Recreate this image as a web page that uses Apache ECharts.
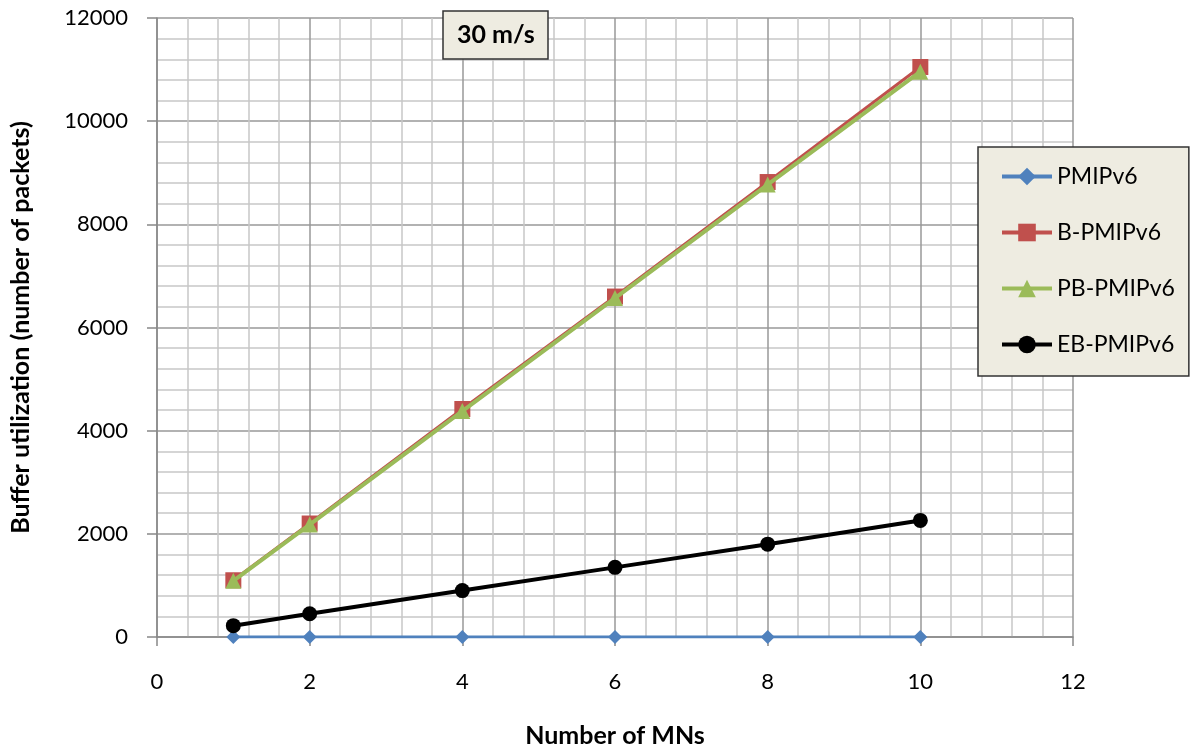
<!DOCTYPE html>
<html>
<head>
<meta charset="utf-8">
<script src="https://cdn.jsdelivr.net/npm/echarts@6/dist/echarts.min.js"></script>
<style>html,body{margin:0;padding:0;background:#fff;}#c{width:1202px;height:753px;}</style>
</head>
<body>
<div id="c"></div>
<script>
const xValues = [1, 2, 4, 6, 8, 10];
const pmipv6 = [0, 0, 0, 0, 0, 0];
const bPmipv6 = [1100, 2200, 4420, 6600, 8820, 11050];
const pbPmipv6 = [1090, 2180, 4380, 6570, 8770, 10960];
const ebPmipv6 = [220, 450, 900, 1350, 1800, 2260];
const seriesNames = ['PMIPv6', 'B-PMIPv6', 'PB-PMIPv6', 'EB-PMIPv6'];
const chartTitle = '30 m/s';
const xName = 'Number of MNs';
const yName = 'Buffer utilization (number of packets)';

const font = 'Lato, "Open Sans", sans-serif';
function pts(arr) { return xValues.map((x, i) => [x, arr[i]]); }

const chart = echarts.init(document.getElementById('c'));
chart.setOption({
  animation: false,
  textStyle: { fontFamily: font },
  title: {
    text: chartTitle,
    left: 443, top: 11,
    backgroundColor: '#eeece1',
    borderColor: '#333',
    borderWidth: 1.5,
    padding: [10, 14, 10, 14],
    textStyle: { fontSize: 25, fontWeight: 'bold', color: '#000', fontFamily: font, lineHeight: 28 }
  },
  legend: {
    orient: 'vertical',
    left: 978, top: 147,
    backgroundColor: '#eeece1',
    borderColor: '#333',
    borderWidth: 1.5,
    padding: [18, 14, 20, 22],
    itemGap: 33,
    itemWidth: 50, itemHeight: 22,
    lineStyle: { width: 4 },
    textStyle: { fontSize: 23, color: '#000', fontFamily: font },
    data: seriesNames
  },
  grid: { left: 152, right: 129, top: 18, bottom: 111, containLabel: false },
  xAxis: {
    type: 'value', min: 0, max: 12, interval: 2,
    name: xName, nameLocation: 'middle', nameGap: 86,
    nameTextStyle: { fontSize: 25, fontWeight: 'bold', color: '#000', fontFamily: font },
    axisLine: { show: true, lineStyle: { color: '#888', width: 1.5 } },
    axisTick: { show: true, length: 9, lineStyle: { color: '#888', width: 1.5 } },
    axisLabel: { fontSize: 22, color: '#000', margin: 34, fontFamily: font },
    splitLine: { show: true, lineStyle: { color: '#999', width: 1.5 } },
    minorTick: { show: false, splitNumber: 5 },
    minorSplitLine: { show: true, lineStyle: { color: '#c8c8c8', width: 1.5 } }
  },
  yAxis: {
    type: 'value', min: 0, max: 12000, interval: 2000,
    name: yName, nameLocation: 'middle', nameGap: 124,
    nameTextStyle: { fontSize: 25, fontWeight: 'bold', color: '#000', fontFamily: font },
    axisLine: { show: true, lineStyle: { color: '#888', width: 1.5 } },
    axisTick: { show: true, length: 10, lineStyle: { color: '#888', width: 1.5 } },
    axisLabel: { fontSize: 22, color: '#000', margin: 29, fontFamily: font, formatter: v => String(v) },
    splitLine: { show: true, lineStyle: { color: '#999', width: 1.5 } },
    minorTick: { show: false, splitNumber: 5 },
    minorSplitLine: { show: true, lineStyle: { color: '#c8c8c8', width: 1.5 } }
  },
  series: [
    { name: seriesNames[0], type: 'line', data: pts(pmipv6), symbol: 'diamond', symbolSize: 14,
      color: '#4f81bd', lineStyle: { width: 3, color: '#4f81bd' }, itemStyle: { color: '#4f81bd' }, z: 2 },
    { name: seriesNames[1], type: 'line', data: pts(bPmipv6), symbol: 'rect', symbolSize: 16,
      color: '#c0504d', lineStyle: { width: 3, color: '#c0504d' }, itemStyle: { color: '#c0504d' }, z: 3 },
    { name: seriesNames[2], type: 'line', data: pts(pbPmipv6), symbol: 'triangle', symbolSize: 16,
      color: '#9bbb59', lineStyle: { width: 4, color: '#9bbb59' }, itemStyle: { color: '#9bbb59' }, z: 4 },
    { name: seriesNames[3], type: 'line', data: pts(ebPmipv6), symbol: 'circle', symbolSize: 15,
      color: '#000', lineStyle: { width: 4, color: '#000' }, itemStyle: { color: '#000' }, z: 5 }
  ]
});
</script>
</body>
</html>
